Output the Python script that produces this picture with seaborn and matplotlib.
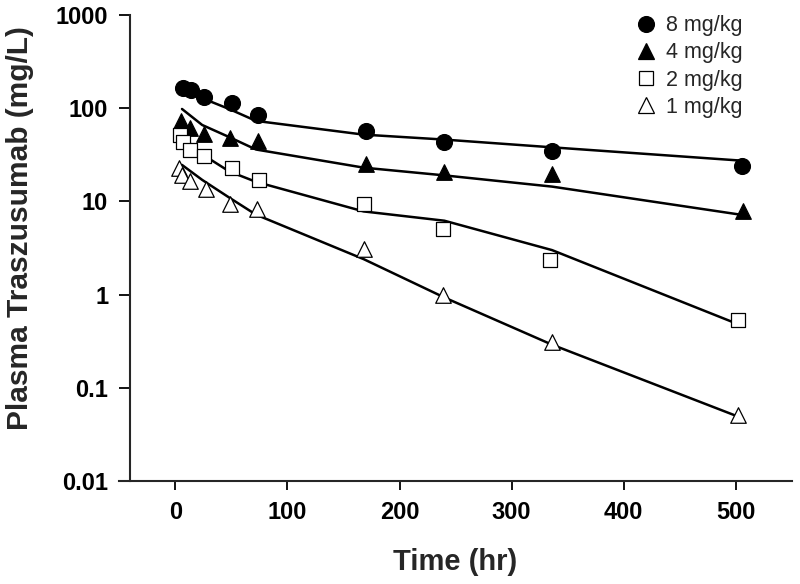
import numpy as np
import pandas as pd
import matplotlib
matplotlib.use("Agg")
import matplotlib.pyplot as plt
import seaborn as sns
from matplotlib.lines import Line2D

# observed concentrations (mg/L) by dose
t8 = [7, 14, 26, 51, 74, 170, 240, 336, 505]
c8 = [165, 155, 132, 113, 85, 57, 43, 35, 24]
t4 = [5, 13, 26, 49, 74, 170, 240, 336, 506]
c4 = [73, 62, 53, 48, 44, 25, 20.5, 19.5, 7.8]
t2 = [4, 7, 13, 26, 51, 75, 168, 239, 334, 502]
c2 = [52, 43, 36, 31, 23, 17, 9.3, 5.0, 2.35, 0.53]
t1 = [3, 6, 13, 27, 49, 73, 168, 239, 336, 502]
c1 = [23, 19, 16.4, 13.5, 9.3, 8.2, 3.1, 1.0, 0.31, 0.051]

# model fit curves
fit_t = [6, 24, 48, 72, 168, 240, 336, 504]
f8 = [175, 128, 98, 73, 52, 46, 38, 27.4]
f4 = [98, 66, 49, 36, 23, 19, 14.4, 7.2]
f2 = [50, 32, 21, 16.2, 7.8, 6.2, 3.0, 0.47]
f1 = [24.6, 17, 11, 7.2, 2.4, 0.93, 0.29, 0.048]

doses = ["8 mg/kg", "4 mg/kg", "2 mg/kg", "1 mg/kg"]
y_ticks = [0.01, 0.1, 1, 10, 100, 1000]
y_labels = ["0.01", "0.1", "1", "10", "100", "1000"]
x_ticks = [0, 100, 200, 300, 400, 500]

obs = pd.concat([
    pd.DataFrame({"time": t, "conc": c, "dose": d})
    for t, c, d in zip([t8, t4, t2, t1], [c8, c4, c2, c1], doses)
])
fit = pd.concat([
    pd.DataFrame({"time": fit_t, "conc": f, "dose": d})
    for f, d in zip([f8, f4, f2, f1], doses)
])

sns.set_style("ticks")
plt.rcParams["font.family"] = ["Liberation Sans", "DejaVu Sans"]

fig = plt.figure(figsize=(8, 5.84), dpi=100)
ax = fig.add_axes([0.149, 0.1764, 0.841, 0.798])

# fitted lines
for d in doses:
    sns.lineplot(data=fit[fit["dose"] == d], x="time", y="conc", ax=ax,
                 color="black", linewidth=1.8, estimator=None, sort=False,
                 legend=False)

styles = {
    "8 mg/kg": dict(marker="o", color="black", s=130),
    "4 mg/kg": dict(marker="^", color="black", s=125),
    "2 mg/kg": dict(marker="s", color="white", s=95),
    "1 mg/kg": dict(marker="^", color="white", s=125),
}
for d in doses:
    st = styles[d]
    sns.scatterplot(data=obs[obs["dose"] == d], x="time", y="conc", ax=ax,
                    marker=st["marker"], color=st["color"], s=st["s"],
                    edgecolor="black", linewidth=0.9, zorder=3, legend=False)

ax.set_yscale("log")
ax.set_ylim(0.01, 1000)
ax.set_xlim(-50, 550)
ax.set_yticks(y_ticks)
ax.set_yticklabels(y_labels)
ax.yaxis.set_minor_locator(matplotlib.ticker.NullLocator())
ax.set_xticks(x_ticks)
ax.set_xticklabels([str(v) for v in x_ticks])

ax.spines["top"].set_visible(False)
ax.spines["right"].set_visible(False)
ax.spines["left"].set_position(("data", -40))
for sp in ["left", "bottom"]:
    ax.spines[sp].set_linewidth(1.5)
ax.tick_params(axis="y", direction="out", length=8, width=1.3, pad=8,
               colors="black")
ax.tick_params(axis="x", direction="out", length=6.5, width=1.3, pad=8,
               colors="black")
for lab in ax.get_xticklabels() + ax.get_yticklabels():
    lab.set_fontweight("bold")
    lab.set_fontsize(17)

ax.set_xlabel("Time (hr)", fontsize=21, fontweight="bold", labelpad=17)
ax.set_ylabel("Plasma Traszusumab (mg/L)", fontsize=21.5, fontweight="bold")
ax.yaxis.set_label_coords(-0.126, 0.543)

handles = []
for d in doses:
    st = styles[d]
    handles.append(Line2D([], [], linestyle="none", marker=st["marker"],
                          markerfacecolor=st["color"], markeredgecolor="black",
                          markersize=np.sqrt(st["s"]), markeredgewidth=0.9))
fig.legend(handles, doses, loc="upper left", frameon=False, fontsize=15.5,
           bbox_to_anchor=(0.794, 0.974), bbox_transform=fig.transFigure,
           borderaxespad=0, borderpad=0, handletextpad=0.45,
           labelspacing=0.29, handlelength=1.0)

fig.savefig("out.png", dpi=100)
